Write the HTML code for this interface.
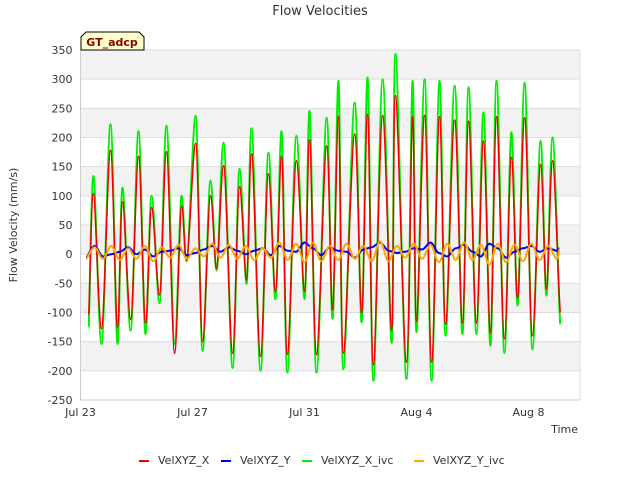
<!DOCTYPE html>
<html><head><meta charset="utf-8"><style>
body{margin:0;background:#fff;}
svg text{font-family:"DejaVu Sans","Liberation Sans",sans-serif;}
</style></head><body>
<svg id="chart" width="640" height="480" xmlns="http://www.w3.org/2000/svg">
<rect width="640" height="480" fill="#fff"/>
<g id="bands"></g><g id="grid"></g><g id="series"></g><g id="axes"></g>
<text x="320" y="15" text-anchor="middle" font-size="13" fill="#333">Flow Velocities</text>
<text transform="translate(17,225) rotate(-90)" text-anchor="middle" font-size="11" fill="#333">Flow Velocity (mm/s)</text>
<text x="578" y="433" text-anchor="end" font-size="11" fill="#333">Time</text>
<g>
<path d="M81,50 L81,37 L86,32 L139,32 L144,37 L144,50 Z" fill="#ffffcc" stroke="#000" stroke-width="1"/>
<text x="112" y="46" text-anchor="middle" font-size="11" font-weight="bold" fill="#8b0000">GT_adcp</text>
</g>
<g id="legend"></g>
</svg>
<script>
const yTicks=[-250,-200,-150,-100,-50,0,50,100,150,200,250,300,350];
const xTickLabels=["Jul 23","Jul 27","Jul 31","Aug 4","Aug 8"];
const xTickDays=[0,4,8,12,16];
const tDays=[0.29,0.46,0.75,1.07,1.32,1.5,1.79,2.07,2.32,2.54,2.82,3.07,3.36,3.61,3.79,4.11,4.36,4.64,4.86,5.11,5.43,5.68,5.93,6.11,6.43,6.71,6.96,7.18,7.39,7.71,8.0,8.18,8.43,8.79,9.0,9.21,9.39,9.79,10.04,10.25,10.46,10.79,11.11,11.25,11.64,11.86,12.0,12.29,12.54,12.82,13.04,13.36,13.64,13.86,14.14,14.39,14.64,14.86,15.14,15.39,15.61,15.86,16.14,16.43,16.64,16.86,17.14];
const velXivc=[-126,134,-154,223,-154,114,-131,211,-137,100,-84,220,-154,100,-12,237,-166,126,-28,191,-195,146,-51,216,-200,174,-77,211,-203,203,-77,246,-203,234,-111,297,-197,260,-117,303,-217,300,-152,343,-214,297,-134,300,-217,297,-140,289,-137,286,-137,243,-157,297,-169,209,-88,294,-163,194,-71,200,-120];
const velX=[-104,104,-128,178,-125,90,-112,168,-118,80,-70,176,-170,82,-10,190,-150,100,-24,152,-170,116,-44,172,-175,138,-64,168,-172,160,-64,196,-172,186,-95,236,-170,206,-100,240,-190,238,-130,272,-185,236,-115,238,-185,236,-120,230,-118,228,-118,194,-135,236,-145,166,-75,234,-140,154,-60,160,-100];
const tY=[0.2,0.5,0.8,1.1,1.4,1.7,2.0,2.3,2.6,2.9,3.2,3.5,3.8,4.1,4.4,4.7,5.0,5.3,5.6,5.9,6.2,6.5,6.8,7.1,7.4,7.7,8.0,8.3,8.6,8.9,9.2,9.5,9.8,10.1,10.4,10.7,11.0,11.3,11.6,11.9,12.2,12.5,12.8,13.1,13.4,13.7,14.0,14.3,14.6,14.9,15.2,15.5,15.8,16.1,16.4,16.7,17.0,17.1];
const velY=[-6,14,-4,0,4,12,0,8,-4,4,6,10,-2,2,8,14,4,12,6,0,6,10,-2,14,6,4,20,10,-2,12,6,4,-6,8,12,20,6,2,4,10,8,20,2,-4,10,16,4,-4,18,10,-6,4,10,14,4,10,6,10];
const velYivc=[-8,12,-8,14,-10,10,-8,14,-12,12,-6,16,-8,10,-4,18,-6,16,-8,14,-10,10,-6,20,-10,18,-14,20,-12,14,-10,18,-8,14,-12,22,-12,14,-6,18,-8,16,-14,18,-10,20,-10,16,-18,18,-14,16,-12,18,-10,14,-8,8];
const X0=80.5,X1=580,Y0=50,Y1=400,PXDAY=28;
const xs=d=>X0+d*PXDAY;
const ys=v=>Y1-(v+250)*(Y1-Y0)/600;
const NS="http://www.w3.org/2000/svg";
function mk(tag,attrs,parent){const e=document.createElementNS(NS,tag);for(const k in attrs)e.setAttribute(k,attrs[k]);parent.appendChild(e);return e;}
const bands=document.getElementById('bands'),grid=document.getElementById('grid'),axes=document.getElementById('axes'),series=document.getElementById('series'),legend=document.getElementById('legend');
for(let i=0;i<yTicks.length-1;i++){
  if((yTicks.length-2-i)%2===0){const r=mk('rect',{x:X0,y:ys(yTicks[i+1]),width:X1-X0,height:ys(yTicks[i])-ys(yTicks[i+1]),fill:'#f2f2f2'},bands);
  
  }
}
yTicks.forEach(v=>{
  const l=mk('line',{x1:X0,x2:X1,y1:ys(v),y2:ys(v),stroke:'#dddddd','stroke-width':1},grid);
  
  
  const t=mk('text',{x:X0-8,y:ys(v)+4,'text-anchor':'end','font-size':11,fill:'#333'},axes);
  t.textContent=v;
  
  
});
mk('line',{x1:X0,x2:X0,y1:Y0,y2:Y1,stroke:'#ccc'},axes);
mk('line',{x1:X1,x2:X1,y1:Y0,y2:Y1,stroke:'#ddd'},axes);
mk('line',{x1:X0,x2:X1,y1:Y1,y2:Y1,stroke:'#ccc'},axes);
xTickDays.forEach((d,i)=>{
  const t=mk('text',{x:xs(d),y:416,'text-anchor':'middle','font-size':11,fill:'#333'},axes);
  t.textContent=xTickLabels[i];
  
  
});
function smoothPath(tx,vals){
  const p=tx.map((d,i)=>[xs(d),ys(vals[i])]);
  let s='M'+p[0][0].toFixed(1)+','+p[0][1].toFixed(1);
  for(let i=0;i<p.length-1;i++){
    const a=p[Math.max(i-1,0)],b=p[i],c=p[i+1],e=p[Math.min(i+2,p.length-1)];
    const c1x=b[0]+(c[0]-a[0])/6,c2x=c[0]-(e[0]-b[0])/6;
    s+=' C'+c1x.toFixed(1)+','+b[1].toFixed(1)+' '+c2x.toFixed(1)+','+c[1].toFixed(1)+' '+c[0].toFixed(1)+','+c[1].toFixed(1);
  }
  return s;
}
const defs=[
  {name:'velxyz-x-ivc-line',t:tDays,v:velXivc,c:'#00ee00',w:2},
  {name:'velxyz-x-line',t:tDays,v:velX,c:'#ee0000',w:1.5},
  {name:'velxyz-y-line',t:tY,v:velY,c:'#0000ee',w:2},
  {name:'velxyz-y-ivc-line',t:tY,v:velYivc,c:'#ffa500',w:2}
];
defs.forEach(s=>{
  const p=mk('path',{d:smoothPath(s.t,s.v),fill:'none',stroke:s.c,'stroke-width':s.w,'stroke-linejoin':'round'},series);
  
  
});
const legItems=[["VelXYZ_X","#ee0000",139],["VelXYZ_Y","#0000ee",221],["VelXYZ_X_ivc","#00ee00",302],["VelXYZ_Y_ivc","#ffa500",414]];
legItems.forEach(it=>{
  const g=mk('g',{},legend);
  
  
  mk('line',{x1:it[2],x2:it[2]+10,y1:461,y2:461,stroke:it[1],'stroke-width':2},g);
  const t=mk('text',{x:it[2]+19,y:464,'font-size':11,fill:'#333'},g);
  t.textContent=it[0];
});
</script>
</body></html>
